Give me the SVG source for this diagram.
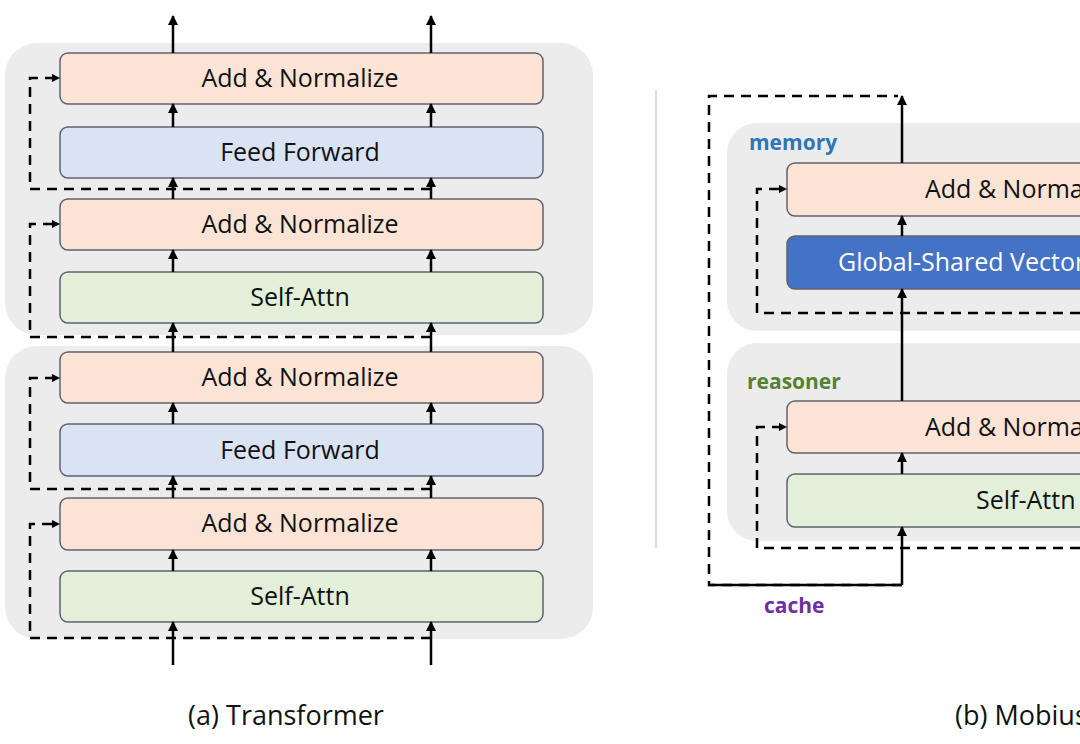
<svg xmlns="http://www.w3.org/2000/svg" width="1080" height="744" viewBox="0 0 1080 744">
<defs>
<marker id="ah" viewBox="0 0 10 10" refX="9" refY="5" markerWidth="4" markerHeight="4" orient="auto"><path d="M0,0L10,5L0,10z" fill="#000"/></marker>
</defs>
<style>
.blk{fill:#ececec}
.box{stroke:#5f6270;stroke-width:1.5}
.an{fill:#fbe4d6}.ff{fill:#dae3f3}.sa{fill:#e2efd9}.gv{fill:#4472c4}
.t{font-family:"Open Sans","Noto Sans",sans-serif;font-size:25px;fill:#111}
.s{stroke:#000;stroke-width:2.5;fill:none}
.d{stroke:#000;stroke-width:2.5;fill:none;stroke-dasharray:10 7}
.lb{font-family:"Open Sans","Noto Sans",sans-serif;font-size:21px;font-weight:bold}
</style>
<rect width="1080" height="744" fill="#fff"/>
<rect class="blk" x="5" y="43" width="588" height="292" rx="32"/>
<rect class="blk" x="5" y="346" width="588" height="293" rx="32"/>
<line x1="656" y1="90" x2="656" y2="548" stroke="#ddd" stroke-width="2"/>
<rect class="blk" x="727" y="123" width="400" height="208" rx="30"/>
<rect class="blk" x="727" y="343" width="400" height="198" rx="30"/>
<g id="a1"><rect class="box an" x="60" y="53" width="483" height="51" rx="8"/><text class="t" x="300" y="87" text-anchor="middle">Add &amp; Normalize</text></g>
<g id="a2"><rect class="box ff" x="60" y="127" width="483" height="51" rx="8"/><text class="t" x="300" y="161" text-anchor="middle">Feed Forward</text></g>
<g id="a3"><rect class="box an" x="60" y="199" width="483" height="51" rx="8"/><text class="t" x="300" y="233" text-anchor="middle">Add &amp; Normalize</text></g>
<g id="a4"><rect class="box sa" x="60" y="272" width="483" height="51" rx="8"/><text class="t" x="300" y="306" text-anchor="middle">Self-Attn</text></g>
<g id="a5"><rect class="box an" x="60" y="352" width="483" height="51" rx="8"/><text class="t" x="300" y="386" text-anchor="middle">Add &amp; Normalize</text></g>
<g id="a6"><rect class="box ff" x="60" y="424" width="483" height="52" rx="8"/><text class="t" x="300" y="459" text-anchor="middle">Feed Forward</text></g>
<g id="a7"><rect class="box an" x="60" y="498" width="483" height="52" rx="8"/><text class="t" x="300" y="532" text-anchor="middle">Add &amp; Normalize</text></g>
<g id="a8"><rect class="box sa" x="60" y="571" width="483" height="51" rx="8"/><text class="t" x="300" y="605" text-anchor="middle">Self-Attn</text></g>
<g id="b1"><rect class="box an" x="787" y="163" width="483" height="53" rx="8"/><text class="t" x="925" y="198">Add &amp; Normalize</text></g>
<g id="b2"><rect class="box gv" x="787" y="236" width="483" height="53" rx="8"/><text class="t" x="838" y="271" style="fill:#fff">Global-Shared Vectors</text></g>
<g id="b3"><rect class="box an" x="787" y="401" width="483" height="52" rx="8"/><text class="t" x="925" y="436">Add &amp; Normalize</text></g>
<g id="b4"><rect class="box sa" x="787" y="474" width="483" height="53" rx="8"/><text class="t" x="976" y="509">Self-Attn</text></g>
<text class="lb" x="749" y="150" fill="#2e75b6">memory</text>
<text class="lb" x="747" y="389" fill="#548235">reasoner</text>
<text class="lb" x="764" y="613" fill="#7030a0">cache</text>
<text class="t" x="286" y="725" text-anchor="middle" style="font-size:27px">(a) Transformer</text>
<text class="t" x="955" y="725" style="font-size:27px">(b) Mobius</text>
<g id="connectors">
<g class="s" marker-end="url(#ah)">
<path d="M173 53V16"/><path d="M431 53V16"/>
<path d="M173 127V104"/><path d="M431 127V104"/>
<path d="M173 199V178"/><path d="M431 199V178"/>
<path d="M173 272V250"/><path d="M431 272V250"/>
<path d="M173 352V323"/><path d="M431 352V323"/>
<path d="M173 424V403"/><path d="M431 424V403"/>
<path d="M173 498V476"/><path d="M431 498V476"/>
<path d="M173 571V550"/><path d="M431 571V550"/>
<path d="M173 665V622"/><path d="M431 665V622"/>
<path d="M902 163V96"/><path d="M902 236V216"/>
<path d="M902 401V289"/><path d="M902 474V453"/>
<path d="M902 585V527"/>
</g>
<path class="s" d="M709 585H902"/>
<g class="d">
<path d="M431 189H30V78H52"/><path d="M431 337H30V224H52"/>
<path d="M431 489H30V378H52"/><path d="M431 638H30V524H52"/>
<path d="M1080 313H757V189H779"/><path d="M1080 548H757V427H779"/>
<path d="M902 585H709V96H898"/>
</g>
<g fill="#000">
<path d="M60 78l-8-4v8z"/><path d="M60 224l-8-4v8z"/><path d="M60 378l-8-4v8z"/><path d="M60 524l-8-4v8z"/>
<path d="M787 189l-8-4v8z"/><path d="M787 427l-8-4v8z"/>
</g>
</g>
</svg>
